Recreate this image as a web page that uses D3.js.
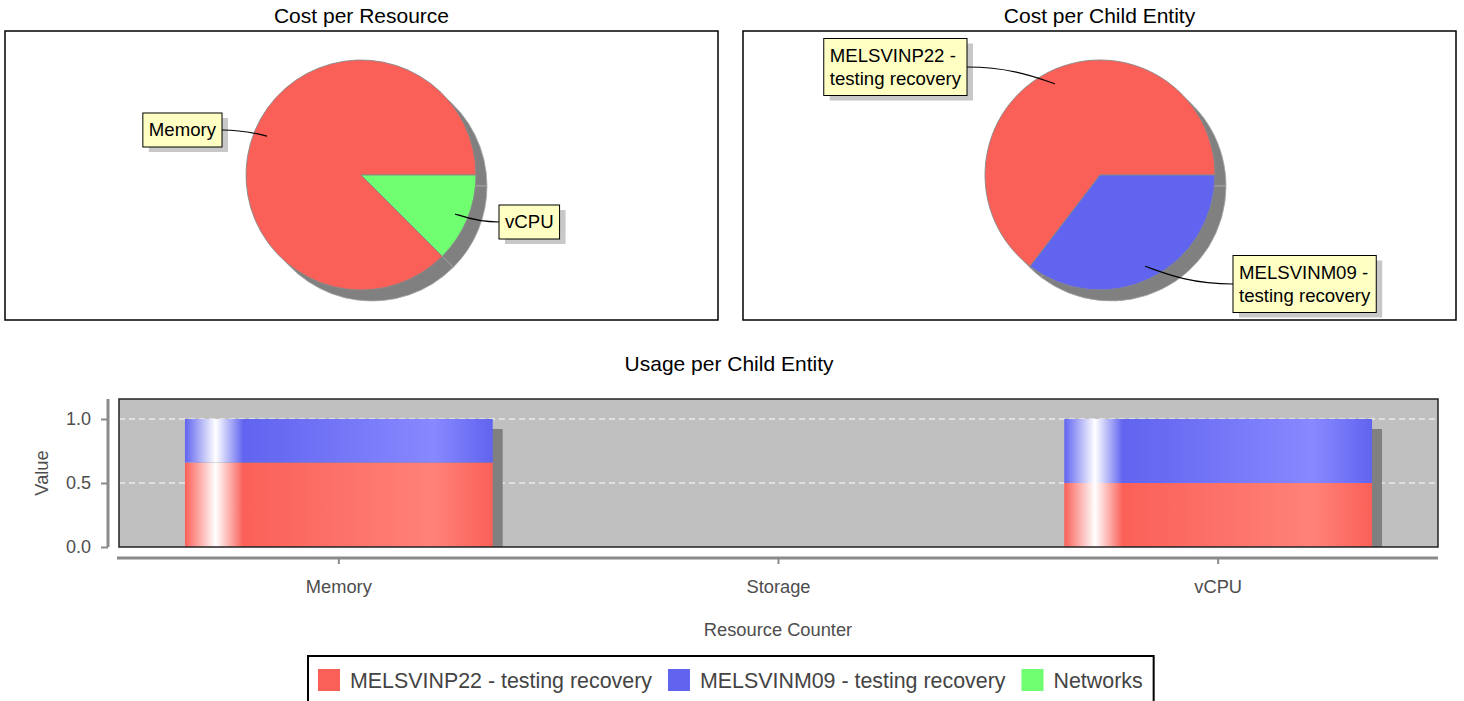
<!DOCTYPE html>
<html>
<head>
<meta charset="utf-8">
<script src="https://cdn.jsdelivr.net/npm/d3@7"></script>
<style>
  html, body { margin: 0; padding: 0; background: #fff; }
  svg { display: block; font-family: "Liberation Sans", Arial, sans-serif; }
</style>
</head>
<body>
<svg id="chart" width="1464" height="701"></svg>
<script>
// ---------------- DATA ----------------
const resourceNames = ["Memory", "vCPU"];
const resourceCost = [87.5, 12.5];
const childNames = ["MELSVINP22 - testing recovery", "MELSVINM09 - testing recovery"];
const childCost = [64.6, 35.4];
const counters = ["Memory", "Storage", "vCPU"];
const usageP22 = [0.66, 0, 0.5];
const usageM09 = [0.34, 0, 0.5];
const yTicks = [0, 0.5, 1.0];
const legendNames = ["MELSVINP22 - testing recovery", "MELSVINM09 - testing recovery", "Networks"];

// ---------------- STYLE ----------------
const RED = "#fa6058", BLUE = "#6064ef", GREEN = "#70ff70";
const RED_L = "#ff8278", BLUE_L = "#8888ff";

const svg = d3.select("#chart");
const defs = svg.append("defs");

// ---------------- PIES ----------------
function drawPie(opts) {
  const { panelX, panelW, title, names, values, colors, cx, cy, r, labelPos } = opts;
  svg.append("rect").attr("x", panelX).attr("y", 31).attr("width", panelW).attr("height", 289)
    .attr("fill", "#fff").attr("stroke", "#000").attr("stroke-width", 1.5);
  svg.append("text").attr("x", panelX + panelW / 2).attr("y", 23).attr("text-anchor", "middle")
    .attr("font-size", 21).attr("fill", "#000").text(title);

  const pie = d3.pie().sort(null).startAngle(Math.PI / 2).endAngle(Math.PI / 2 - 2 * Math.PI);
  const arcs = pie(values);
  const arc = d3.arc().innerRadius(0).outerRadius(r);

  // shadow
  const sh = svg.append("g").attr("transform", `translate(${cx + 11},${cy + 11})`);
  sh.selectAll("path").data(arcs).enter().append("path")
    .attr("d", arc).attr("fill", "#808080").attr("stroke", "#a8a8a8").attr("stroke-width", 0.8);

  const g = svg.append("g").attr("transform", `translate(${cx},${cy})`);
  g.selectAll("path").data(arcs).enter().append("path")
    .attr("d", arc).attr("fill", (d, i) => colors[i]).attr("stroke", "#888").attr("stroke-width", 0.9);

  // labels
  arcs.forEach((a, i) => {
    const mid = (a.startAngle + a.endAngle) / 2;
    const ar = r * 0.885;
    const ax = cx + Math.sin(mid) * ar, ay = cy - Math.cos(mid) * ar;
    const lp = labelPos[i];
    const lines = names[i].includes(" - ") ? [names[i].split(" - ")[0] + " -", names[i].split(" - ")[1]] : [names[i]];
    const lg = svg.append("g");
    const shadowR = lg.append("rect");
    const boxR = lg.append("rect");
    const txt = lg.append("text").attr("font-size", 18.6).attr("fill", "#000");
    lines.forEach((l, k) => txt.append("tspan").attr("x", 0).attr("dy", k === 0 ? 0 : 23).text(l));
    const pad = 6;
    const w = d3.max(txt.selectAll("tspan").nodes(), n => n.getComputedTextLength()) + pad * 2;
    const h = lines.length * 23 + 11;
    let bx = lp.side === "left" ? lp.edgeX - w : lp.edgeX;
    const by = lp.cy - h / 2;
    shadowR.attr("x", bx + 6).attr("y", by + 5).attr("width", w).attr("height", h).attr("fill", "#c8c8c8");
    boxR.attr("x", bx).attr("y", by).attr("width", w).attr("height", h)
      .attr("fill", "#ffffc4").attr("stroke", "#000").attr("stroke-width", 1);
    txt.attr("transform", `translate(${bx + pad},${by + 23})`);
    const ex = lp.edgeX, ey = lp.cy;
    const dir = lp.side === "left" ? 1 : -1;
    const c1x = ex + dir * Math.abs(ax - ex) * 0.5, c1y = ey;
    const c2x = ax - dir * Math.abs(ax - ex) * 0.2, c2y = ay - (ay - ey) * 0.35;
    svg.append("path").attr("d", `M${ex},${ey} C${c1x},${c1y} ${c2x},${c2y} ${ax},${ay}`)
      .attr("fill", "none").attr("stroke", "#000").attr("stroke-width", 1.2);
  });
}

drawPie({
  panelX: 5, panelW: 713, title: "Cost per Resource", names: resourceNames, values: resourceCost,
  colors: [RED, GREEN], cx: 361, cy: 175, r: 115,
  labelPos: [{ side: "left", edgeX: 222, cy: 130 }, { side: "right", edgeX: 499, cy: 222 }]
});
drawPie({
  panelX: 743, panelW: 713, title: "Cost per Child Entity", names: childNames, values: childCost,
  colors: [RED, BLUE], cx: 1100, cy: 175, r: 115,
  labelPos: [{ side: "left", edgeX: 967, cy: 67 }, { side: "right", edgeX: 1233, cy: 284 }]
});

// ---------------- BAR CHART ----------------
const plot = { x: 119, y: 399, w: 1319, h: 148 };
const x = d3.scaleBand().domain(counters).range([plot.x, plot.x + plot.w]).padding(0);
const y = d3.scaleLinear().domain([0, 1.15625]).range([plot.y + plot.h, plot.y]);

svg.append("text").attr("x", 729).attr("y", 371).attr("text-anchor", "middle")
  .attr("font-size", 21).attr("fill", "#000").text("Usage per Child Entity");

function grad(id, base, light) {
  const lg = defs.append("linearGradient").attr("id", id).attr("x1", 0).attr("x2", 1).attr("y1", 0).attr("y2", 0);
  [[0, base], [0.1, "#ffffff"], [0.19, base], [0.81, light], [1, base]].forEach(s =>
    lg.append("stop").attr("offset", s[0]).attr("stop-color", s[1]));
}
grad("gRed", RED, RED_L);
grad("gBlue", BLUE, BLUE_L);

defs.append("clipPath").attr("id", "plotClip").append("rect")
  .attr("x", plot.x).attr("y", plot.y).attr("width", plot.w).attr("height", plot.h);

svg.append("rect").attr("x", plot.x).attr("y", plot.y).attr("width", plot.w).attr("height", plot.h)
  .attr("fill", "#c0c0c0");

const gridVals = yTicks.filter(v => v > 0);
svg.append("g").selectAll("line").data(gridVals).enter().append("line")
  .attr("x1", plot.x).attr("x2", plot.x + plot.w).attr("y1", d => y(d)).attr("y2", d => y(d))
  .attr("stroke", "#fff").attr("stroke-width", 1.2).attr("stroke-dasharray", "6,4");

const series = [{ vals: usageP22, fill: "url(#gRed)" }, { vals: usageM09, fill: "url(#gBlue)" }];
const bw = x.bandwidth() * 0.7;
const bars = svg.append("g").attr("clip-path", "url(#plotClip)");
counters.forEach((c, i) => {
  const total = usageP22[i] + usageM09[i];
  if (total <= 0) return;
  const bx = x(c) + (x.bandwidth() - bw) / 2;
  bars.append("rect").attr("x", bx + 10).attr("y", y(total) + 10).attr("width", bw)
    .attr("height", y(0) - y(total)).attr("fill", "#808080");
});
counters.forEach((c, i) => {
  const bx = x(c) + (x.bandwidth() - bw) / 2;
  let base = 0;
  series.forEach(s => {
    const v = s.vals[i];
    if (v > 0) {
      bars.append("rect").attr("x", bx).attr("y", y(base + v)).attr("width", bw)
        .attr("height", y(base) - y(base + v)).attr("fill", s.fill);
    }
    base += v;
  });
});

svg.append("rect").attr("x", plot.x).attr("y", plot.y).attr("width", plot.w).attr("height", plot.h)
  .attr("fill", "none").attr("stroke", "#222").attr("stroke-width", 1.5);

// axes
const yAxis = svg.append("g").attr("transform", `translate(${plot.x - 11},0)`)
  .call(d3.axisLeft(y).tickValues(yTicks).tickFormat(d3.format(".1f")).tickSize(7).tickSizeOuter(0));
yAxis.select(".domain").attr("stroke", "#8a8a8a").attr("stroke-width", 3)
  .attr("d", `M0,${plot.y}V${plot.y + plot.h}`);
yAxis.selectAll(".tick line").attr("stroke", "#8a8a8a").attr("stroke-width", 2);
yAxis.selectAll(".tick text").attr("font-size", 18).attr("fill", "#4d4d4d")
  .attr("font-family", "Liberation Sans, Arial, sans-serif").attr("x", -17);

const xAxis = svg.append("g").attr("transform", `translate(0,${plot.y + plot.h + 11})`)
  .call(d3.axisBottom(x).tickSize(6).tickSizeOuter(0));
xAxis.select(".domain").attr("stroke", "#8a8a8a").attr("stroke-width", 3)
  .attr("d", `M${plot.x - 2},0H${plot.x + plot.w}`);
xAxis.selectAll(".tick line").attr("stroke", "#8a8a8a").attr("stroke-width", 2);
xAxis.selectAll(".tick text").attr("font-size", 18.3).attr("fill", "#4d4d4d")
  .attr("font-family", "Liberation Sans, Arial, sans-serif").attr("y", 22).attr("dy", "0.71em");

svg.append("text").attr("transform", "translate(48,473) rotate(-90)").attr("text-anchor", "middle")
  .attr("font-size", 18.3).attr("fill", "#4d4d4d").text("Value");
svg.append("text").attr("x", 778).attr("y", 636).attr("text-anchor", "middle")
  .attr("font-size", 18.3).attr("fill", "#4d4d4d").text("Resource Counter");

// ---------------- LEGEND ----------------
const legColors = [RED, BLUE, GREEN];
const leg = svg.append("g");
const legBox = leg.append("rect");
let lx = 0;
const items = [];
legendNames.forEach((n, i) => {
  const sw = leg.append("rect").attr("y", 669).attr("width", 22).attr("height", 22).attr("fill", legColors[i]);
  const t = leg.append("text").attr("y", 688).attr("font-size", 21.4).attr("fill", "#444").text(n);
  const tw = t.node().getComputedTextLength();
  items.push({ sw, t, off: lx });
  lx += 32 + tw + 16;
});
const totalW = lx - 16;
const startX = 318;
items.forEach(it => {
  it.sw.attr("x", startX + it.off);
  it.t.attr("x", startX + it.off + 32);
});
legBox.attr("x", 308).attr("y", 656).attr("width", totalW + 21).attr("height", 60)
  .attr("fill", "#fff").attr("stroke", "#000").attr("stroke-width", 2);
</script>
</body>
</html>
